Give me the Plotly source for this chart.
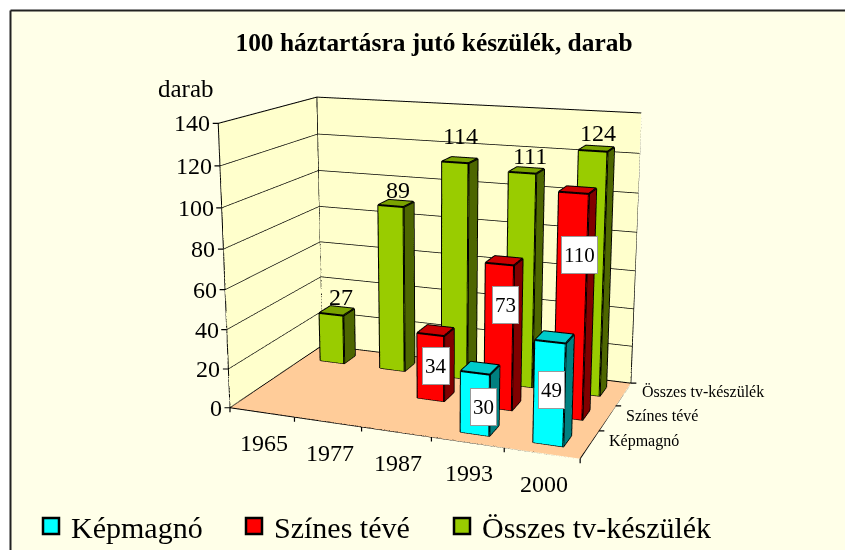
import plotly.graph_objects as go

years = ["1965", "1977", "1987", "1993", "2000"]
series = ["Képmagnó", "Színes tévé", "Összes tv-készülék"]
kepmagno = [None, None, None, 30, 49]
szines = [None, None, 34, 73, 110]
osszes = [27, 89, 114, 111, 124]
front_colors = ["#00FFFF", "#FF0000", "#99CC00"]
top_colors = ["#00CCCC", "#CC0000", "#7AA300"]
side_colors = ["#008080", "#800000", "#4D6600"]
all_values = [kepmagno, szines, osszes]
z_ticks = [0, 20, 40, 60, 80, 100, 120, 140]
X_RANGE = [-0.5, 4.5]
Y_RANGE = [-0.5, 2.5]
Z_RANGE = [0, 140]
BAR_W = 0.2
BAR_D = 0.2
FOVY = 0.3804
# hand placed data labels, pixel shifts (x, y-up) by (series, category)
label_shift = {(1, 2): (0, -3), (1, 3): (2, 28), (1, 4): (5, 49), (0, 3): (4, -8), (0, 4): (-2, -1),
               (2, 0): (4, 1), (2, 1): (2, 0), (2, 2): (1, 11), (2, 3): (3, 1), (2, 4): (1, 3)}
legend_left = [31, 234, 442]

fig = go.Figure()
xa, xb = X_RANGE
ya, yb = Y_RANGE
za, zb = Z_RANGE
# wall and floor outline
fig.add_trace(go.Scatter3d(
    x=[xa, xa, xa, xa, xa, xb, xb, xa, xa, xb, xb],
    y=[ya, ya, yb, yb, ya, ya, yb, yb, yb, yb, yb],
    z=[za, zb, zb, za, za, za, za, za, zb, zb, za],
    mode="lines", line=dict(color="black", width=2), hoverinfo="skip", showlegend=False))

annotations = []
for si, vals in enumerate(all_values):
    for xi, v in enumerate(vals):
        if v is None:
            continue
        x0, x1 = xi - BAR_W, xi + BAR_W
        y0, y1 = si - BAR_D, si + BAR_D
        X = [x0, x1, x1, x0, x0, x1, x1, x0]
        Y = [y0, y0, y1, y1, y0, y0, y1, y1]
        Z = [0, 0, 0, 0, v, v, v, v]
        I = [0, 0, 4, 4, 0, 0, 1, 1, 2, 2, 3, 3]
        J = [1, 2, 5, 6, 1, 5, 2, 6, 3, 7, 0, 4]
        K = [2, 3, 6, 7, 5, 4, 6, 5, 7, 6, 4, 7]
        f, t, s = front_colors[si], top_colors[si], side_colors[si]
        fig.add_trace(go.Mesh3d(
            x=X, y=Y, z=Z, i=I, j=J, k=K,
            facecolor=[f, f, t, t, f, f, s, s, f, f, f, f],
            flatshading=True, hoverinfo="skip", showlegend=False, showscale=False,
            lighting=dict(ambient=1, diffuse=0, specular=0, fresnel=0, roughness=1)))
        path = [0, 1, 2, 3, 0, 4, 5, 6, 7, 4, None, 1, 5, None, 2, 6, None, 3, 7]
        fig.add_trace(go.Scatter3d(
            x=[None if p is None else X[p] for p in path],
            y=[None if p is None else Y[p] for p in path],
            z=[None if p is None else Z[p] for p in path],
            mode="lines", line=dict(color="black", width=4), hoverinfo="skip", showlegend=False))
        dx, dy = label_shift[(si, xi)]
        if si == 2:
            annotations.append(dict(x=xi, y=si, z=v, text=str(v), showarrow=False, yanchor="bottom",
                                    xshift=dx, yshift=dy - 2, font=dict(size=24)))
        else:
            annotations.append(dict(x=xi, y=si, z=v / 2, text=str(v), showarrow=False, bgcolor="white",
                                    bordercolor="#999999", borderwidth=1, borderpad=2, height=32,
                                    xshift=dx, yshift=dy, font=dict(size=21)))


def tick(x, y, z, ax, ay):
    return dict(x=x, y=y, z=z, text="", showarrow=True, arrowhead=0, arrowwidth=1.2, arrowcolor="black",
                ax=ax, ay=ay, standoff=0, startstandoff=0)


for z in z_ticks:
    annotations.append(dict(x=xa, y=ya, z=z, text=str(z), showarrow=False, xanchor="right", xshift=-6,
                            font=dict(size=24)))
    annotations.append(tick(xa, ya, z, -7, 0))
for xi, yr in enumerate(years):
    annotations.append(dict(x=xi, y=ya, z=za, text=yr, showarrow=False, yanchor="top", xshift=2, yshift=-16,
                            font=dict(size=24)))
    annotations.append(tick(xi - 0.5, ya, za, 0, 6))
annotations.append(tick(xb, ya, za, 0, 6))
for si, name in enumerate(series):
    annotations.append(dict(x=xb, y=si, z=za, text=name, showarrow=False, xanchor="left", xshift=17,
                            yshift=3, font=dict(size=16)))
    annotations.append(tick(xb, si + 0.5, za, 7, 0))

# legend entries, one legend each so that every entry can sit where the reference has it
legend_ids = ["legend", "legend2", "legend3"]
legend_layout = {}
for name, col, lid, left in zip(series, front_colors, legend_ids, legend_left):
    fig.add_trace(go.Scatter(x=[None], y=[None], name=name, mode="markers", legend=lid,
                             marker=dict(symbol="square", size=20, color=col, line=dict(color="black", width=2.5))))
    legend_layout[lid] = dict(x=left / 845, y=1 - 500 / 550, xanchor="left", yanchor="top",
                              bgcolor="rgba(0,0,0,0)", font=dict(size=30), itemwidth=30)

hidden = dict(title="", showticklabels=False, showgrid=False, zeroline=False, showspikes=False, showline=False)
fig.update_layout(
    template="none",
    width=845, height=550, margin=dict(l=0, r=0, t=0, b=0, autoexpand=False),
    paper_bgcolor="#FFFFE8", plot_bgcolor="#FFFFE8",
    font=dict(family="Liberation Serif", color="black"),
    xaxis=dict(visible=False), yaxis=dict(visible=False),
    title=dict(text="<b>100 háztartásra jutó készülék, darab</b>", x=434 / 845, y=1 - 42 / 550, xanchor="center",
               yanchor="middle", font=dict(size=25.4, family="Liberation Serif")),
    shapes=[
        dict(type="rect", xref="paper", yref="paper", x0=0, x1=10.5 / 845, y0=0, y1=1, fillcolor="white", line_width=0),
        dict(type="rect", xref="paper", yref="paper", x0=0, x1=1, y0=1 - 10.5 / 550, y1=1, fillcolor="white", line_width=0),
        dict(type="line", xref="paper", yref="paper", x0=10.5 / 845, x1=1, y0=1 - 10.5 / 550, y1=1 - 10.5 / 550,
             line=dict(color="#222222", width=2)),
        dict(type="line", xref="paper", yref="paper", x0=10.5 / 845, x1=10.5 / 845, y0=0, y1=1 - 10.5 / 550,
             line=dict(color="#222222", width=2)),
    ],
    annotations=[dict(text="darab", xref="paper", yref="paper", x=186 / 845, y=1 - 88 / 550, showarrow=False,
                      xanchor="center", yanchor="middle", font=dict(size=25))],
    scene=dict(
        domain=dict(x=[31 / 845, 1], y=[60 / 550, 1]),
        bgcolor="rgba(0,0,0,0)",
        annotations=annotations,
        aspectmode="manual", aspectratio=dict(x=1, y=0.5903, z=0.7957),
        camera=dict(eye=dict(x=1.2176, y=-3.2056, z=0.8839), center=dict(x=0.002, y=0.013, z=0.041),
                    up=dict(x=0, y=0, z=1), projection=dict(type="perspective")),
        xaxis=dict(hidden, range=X_RANGE, showbackground=True, backgroundcolor="#FFFFCC"),
        yaxis=dict(hidden, range=Y_RANGE, showbackground=True, backgroundcolor="#FFFFCC"),
        zaxis=dict(hidden, range=Z_RANGE, tickvals=z_ticks,
                   showgrid=True, gridcolor="black", gridwidth=1.5, showbackground=True, backgroundcolor="#FFCC99"),
    ),
    **legend_layout,
)
post = ("document.body.style.margin='0';"
        "var s=document.getElementById('{plot_id}')._fullLayout.scene._scene;"
        "s.glplot.fovy=%f;s.glplot.redraw();" % FOVY)
fig.write_html("out.html", post_script=post, config=dict(displayModeBar=False))
